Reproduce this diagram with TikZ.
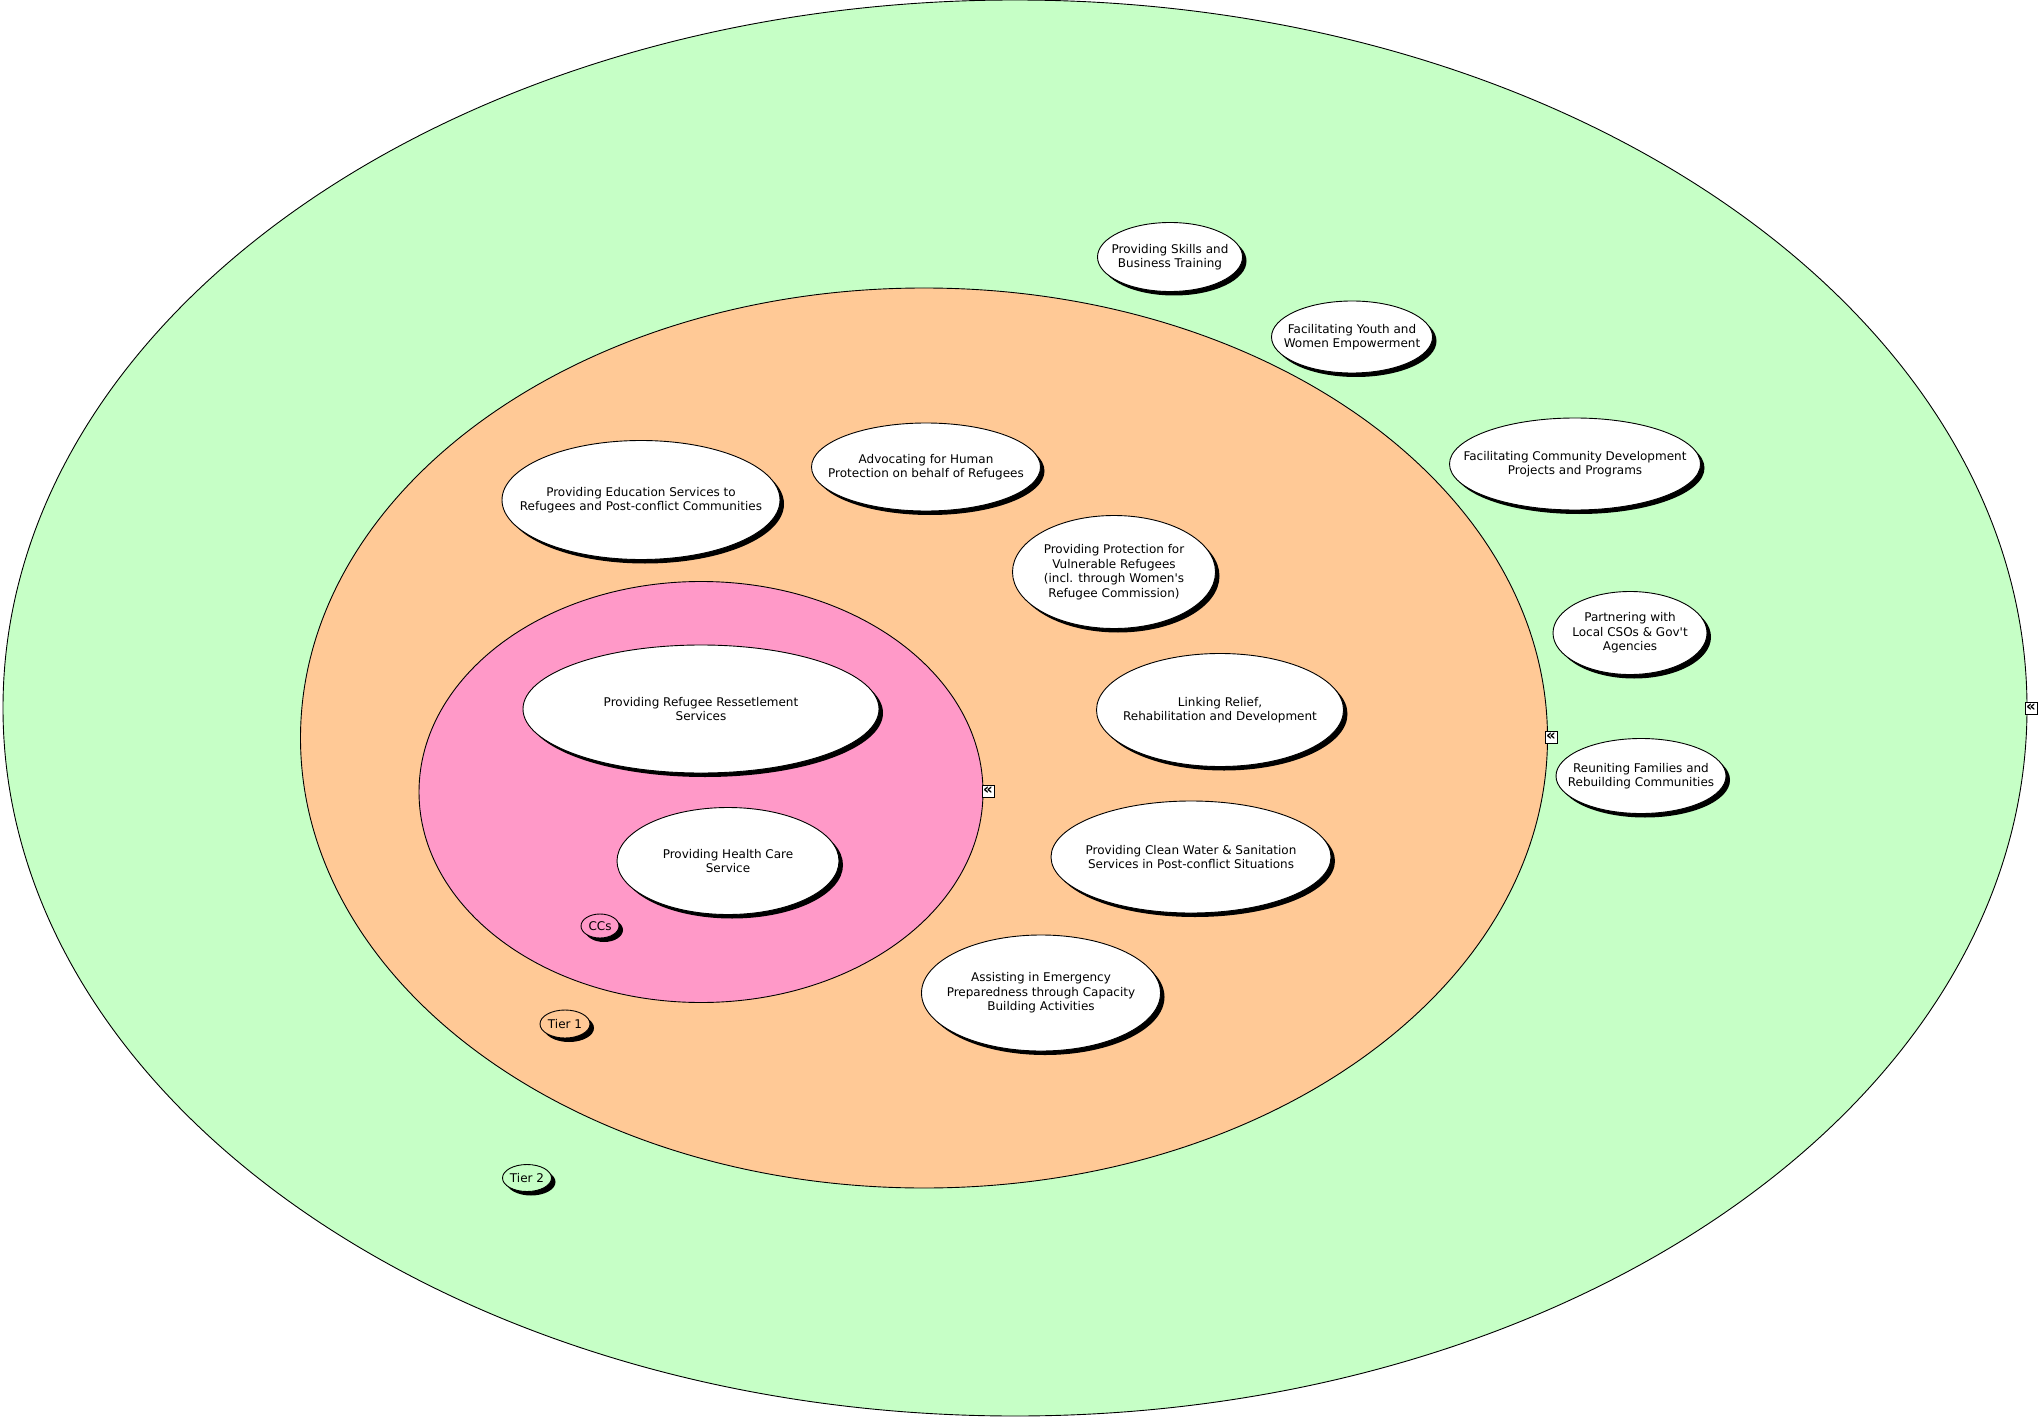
\documentclass[tikz,border=0pt]{standalone}
\usepackage{fontspec}
\setmainfont{DejaVu Sans}
\usepackage{xcolor}
\usepackage{tikz}
\usetikzlibrary{shapes.geometric,shadows}
\definecolor{tiertwo}{RGB}{198,255,198}
\definecolor{tierone}{RGB}{255,201,150}
\definecolor{ccszone}{RGB}{255,153,200}

\begin{document}
\begin{tikzpicture}[
  x=1pt,y=-1pt,
  font=\fontsize{12}{14.5}\selectfont,
  ring/.style={draw,line width=0.9pt,ellipse,inner sep=0pt},
  bub/.style 2 args={draw,line width=0.9pt,ellipse,fill=white,inner sep=0pt,minimum width=#1,minimum height=#2,
    drop shadow={shadow xshift=4pt,shadow yshift=-4pt,fill=black,opacity=1}},
  txt/.style={align=center,inner sep=0pt},
  tog/.style={draw,line width=0.9pt,fill=white,inner sep=0pt,minimum width=12pt,minimum height=12pt,
    font=\fontsize{15}{15}\selectfont\bfseries},
]
\useasboundingbox (0,0) rectangle (2040,1420);
\node[ring,fill=tiertwo,minimum width=2024,minimum height=1416] (t2) at (1015,708) {};
\node[ring,fill=tierone,minimum width=1247,minimum height=900] (t1) at (924,738) {};
\node[ring,fill=ccszone,minimum width=564,minimum height=421] (cc) at (701,792) {};
\node[tog] (t2tog) at (2031,708) {\raisebox{-1pt}{«}};
\node[tog] (t1tog) at (1551,737) {\raisebox{-1pt}{«}};
\node[tog] (cctog) at (988,791) {\raisebox{-1pt}{«}};
\node[bub={145}{69},label={[txt]center:{Providing Skills and\\Business Training}}] (skills) at (1170,257) {};
\node[bub={161}{72},label={[txt]center:{Facilitating Youth and\\Women Empowerment}}] (youth) at (1352,337) {};
\node[bub={251}{92},label={[txt]center:{Facilitating Community Development\\Projects and Programs}}] (commdev) at (1575,464) {};
\node[bub={154}{83},label={[txt]center:{Partnering with\\Local CSOs \& Gov\textquotesingle t\\Agencies}}] (partner) at (1630,633) {};
\node[bub={170}{75},label={[txt]center:{Reuniting Families and\\Rebuilding Communities}}] (reunite) at (1641,776) {};
\node[bub={278}{119},label={[txt]center:{Providing Education Services to\\Refugees and Post-conflict Communities}}] (educ) at (641,500) {};
\node[bub={229}{88},label={[txt]center:{Advocating for Human\\Protection on behalf of Refugees}}] (advoc) at (926,467) {};
\node[bub={203}{113},label={[txt]center:{Providing Protection for\\Vulnerable Refugees\\(incl. through Women\textquotesingle s\\Refugee Commission)}}] (protect) at (1114,572) {};
\node[bub={247}{113},label={[txt]center:{Linking Relief,\\Rehabilitation and Development}}] (lrrd) at (1220,710) {};
\node[bub={280}{112},label={[txt]center:{Providing Clean Water \& Sanitation\\Services in Post-conflict Situations}}] (water) at (1191,857) {};
\node[bub={239}{116},label={[txt]center:{Assisting in Emergency\\Preparedness through Capacity\\Building Activities}}] (emerg) at (1041,993) {};
\node[bub={356}{128},label={[txt]center:{Providing Refugee Ressetlement\\Services}}] (resettle) at (701,709) {};
\node[bub={222}{107},label={[txt]center:{Providing Health Care\\Service}}] (health) at (728,861) {};
\node[bub={38}{24},fill=ccszone,label={[txt]center:CCs}] (ccslbl) at (600,926) {};
\node[bub={50}{28},fill=tierone,label={[txt]center:{Tier 1}}] (t1lbl) at (565,1024) {};
\node[bub={49}{27},fill=tiertwo,label={[txt]center:{Tier 2}}] (t2lbl) at (527,1178) {};
\end{tikzpicture}
\end{document}
